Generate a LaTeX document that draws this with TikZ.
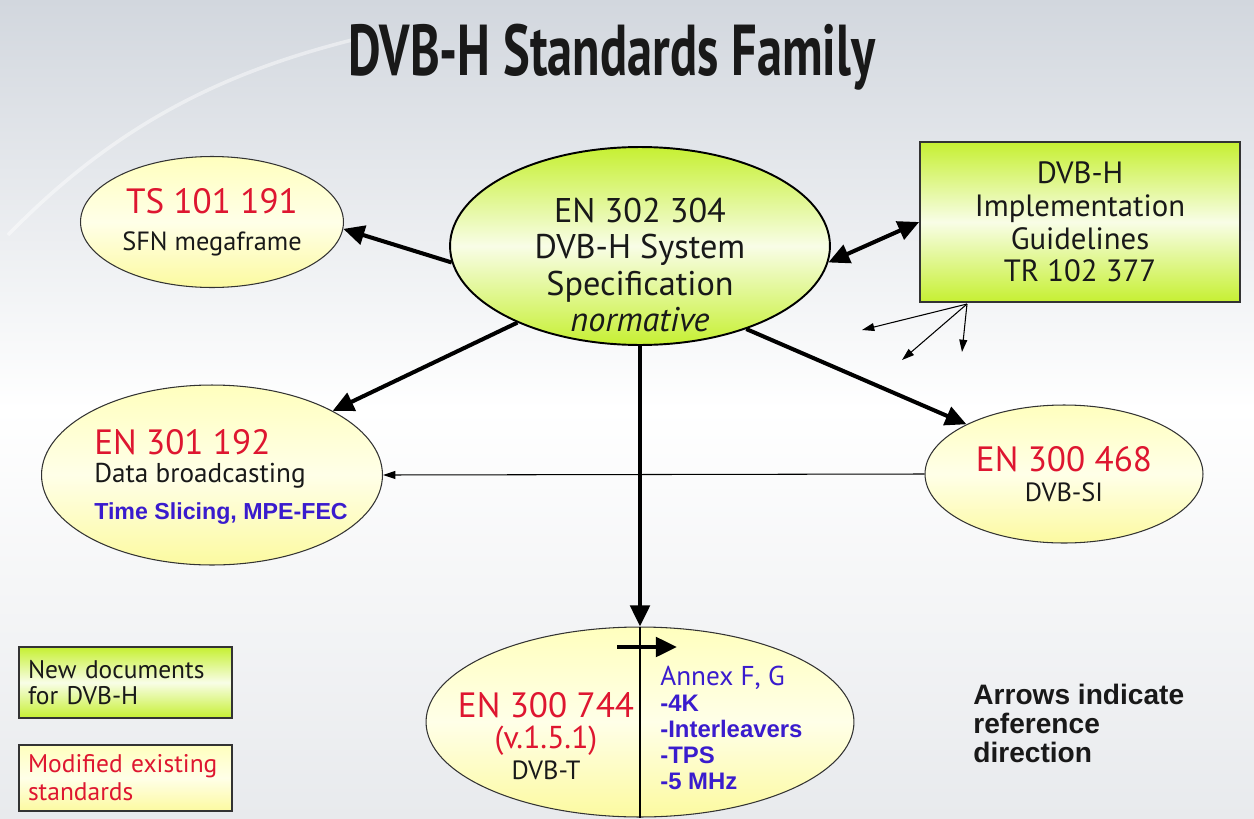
\documentclass[tikz,border=0pt]{standalone}
\usepackage{fontspec}
\usepackage{graphicx}
\setmainfont{PT Sans}
\newfontfamily\arialfam{Liberation Sans}
\usetikzlibrary{shapes.geometric,arrows.meta}

\definecolor{dvbred}{RGB}{222,22,48}
\definecolor{dvbblue}{RGB}{58,28,205}
\definecolor{dvbgreen}{RGB}{198,240,50}
\definecolor{yeltop}{RGB}{255,255,190}
\definecolor{yelmid}{RGB}{255,255,232}
\definecolor{yelbot}{RGB}{252,250,160}
\definecolor{bgtop}{RGB}{210,215,222}
\definecolor{bgbot}{RGB}{232,234,237}

\newcommand{\codesize}{\fontsize{20}{21}\selectfont\color{dvbred}}
\newcommand{\bluebold}{\arialfam\bfseries\color{dvbblue}}

\tikzset{
  txt/.style={inner sep=0pt, text=black!90},
  newell/.style={ellipse, draw=black, line width=1.1pt, top color=dvbgreen,
    bottom color=dvbgreen, middle color=dvbgreen!12, inner sep=0pt},
  oldell/.style={ellipse, draw=black!80, line width=0.6pt, top color=yeltop,
    bottom color=yelbot, middle color=yelmid, inner sep=0pt, text=black!90},
  newbox/.style={rectangle, draw=black!80, line width=1pt, top color=dvbgreen,
    bottom color=dvbgreen, middle color=dvbgreen!12, text=black!90},
  oldbox/.style={rectangle, draw=black!80, line width=0.8pt, top color=yeltop,
    bottom color=yelbot, middle color=yelmid},
  thickarr/.style={line width=2.3pt, -{Triangle[length=12pt,width=11pt]}},
  thinarr/.style={line width=0.6pt, -{Triangle[length=7pt,width=4.5pt]}}
}

\begin{document}
\begin{tikzpicture}[x=0.02cm, y=-0.02cm]
  \useasboundingbox (0,0) rectangle (1254,818);
  \shade[top color=bgtop, bottom color=bgbot, middle color=white] (0,0) rectangle (1254,818);
  \draw[white, line width=2pt, opacity=0.45] (8,235) .. controls (120,120) and (230,70) .. (360,38);

  \node[txt, anchor=base] (title) at (612,75)
    {\fontsize{41}{44}\selectfont\bfseries\scalebox{0.7}[1]{DVB-H Standards Family}};

  \node[newell, minimum width=7.6cm, minimum height=3.96cm] (spec) at (640,246) {};
  \node[txt, align=center, font=\fontsize{19.5}{20.5}\selectfont] (spectext) at (640,265)
    {EN 302 304\\DVB-H System\\Specification\\\textit{normative}};

  \node[oldell, minimum width=5.26cm, minimum height=2.62cm, align=center,
    font=\fontsize{15}{21}\selectfont] (ts) at (212,222)
    {{\codesize TS 101 191}\\SFN megaframe};
  \node[oldell, minimum width=6.82cm, minimum height=3.6cm] (dbc) at (212,475) {};
  \node[txt, align=left, font=\fontsize{15.5}{16}\selectfont] (dbctext) at (221,477)
    {{\codesize EN 301 192}\\Data broadcasting\\[5pt]{\bluebold\fontsize{13.2}{13.5}\selectfont Time Slicing, MPE-FEC}};
  \node[oldell, minimum width=5.56cm, minimum height=2.76cm, align=center,
    font=\fontsize{15}{17}\selectfont] (si) at (1064,474)
    {{\codesize EN 300 468}\\DVB-SI};

  \node[oldell, minimum width=8.56cm, minimum height=3.8cm] (dvbt) at (640,722) {};
  \node[txt, align=center, font=\fontsize{15}{17.5}\selectfont] (dvbtname) at (546,736)
    {{\codesize EN 300 744}\\{\fontsize{18}{18}\selectfont\color{dvbred}(v.1.5.1)}\\DVB-T};
  \node[txt, anchor=west, align=left, text=dvbblue,
    font=\arialfam\bfseries\fontsize{13.6}{14.8}\selectfont] (annex) at (660,728)
    {{\normalfont\fontsize{15.5}{14.8}\selectfont Annex F, G}\\-4K\\-Interleavers\\-TPS\\-5 MHz};

  \node[newbox, minimum width=6.4cm, minimum height=3.2cm, align=center,
    font=\fontsize{17.5}{18.7}\selectfont] (guide) at (1080,222)
    {DVB-H\\Implementation\\Guidelines\\TR 102 377};

  \node[newbox, line width=0.8pt, minimum width=4.26cm, minimum height=1.42cm,
    text width=3.9cm, inner xsep=0.18cm, align=left,
    font=\fontsize{14.5}{14.8}\selectfont] (keynew) at (125.5,682.5)
    {New documents\\for DVB-H};
  \node[oldbox, minimum width=4.26cm, minimum height=1.32cm, text width=3.9cm,
    inner xsep=0.18cm, align=left, text=dvbred,
    font=\fontsize{14.5}{15.8}\selectfont] (keyold) at (125.5,778)
    {Modified existing\\standards};

  \node[txt, anchor=west, align=left, font=\arialfam\bfseries\fontsize{16}{16.5}\selectfont]
    (note) at (973,723) {Arrows indicate\\reference\\direction};

  \draw[thickarr] (spec.185) -- (ts.-3);
  \draw[line width=2.3pt, {Triangle[length=12pt,width=11pt]}-{Triangle[length=12pt,width=11pt]}]
    (spec.355) -- (guide.west);
  \draw[thickarr] (spec.212) -- (dbc.28);
  \draw[thickarr] (spec.322) -- (si.153);
  \draw[thickarr] (spec.south) -- (dvbt.north);
  \draw[thinarr] (si.west) -- (dbc.east);
  \draw[line width=0.6pt] (dvbt.north) -- (dvbt.south);

  \coordinate (shiftfrom) at (617,647);
  \coordinate (shiftto) at (677,647);
  \draw[thickarr] (shiftfrom) -- (shiftto);

  \coordinate (gfoot) at (967,304);
  \coordinate (gone) at (862,330);
  \coordinate (gtwo) at (902,360);
  \coordinate (gthree) at (962,352);
  \foreach \g in {gone,gtwo,gthree}
    \draw[thinarr] (gfoot) -- (\g);
\end{tikzpicture}
\end{document}
